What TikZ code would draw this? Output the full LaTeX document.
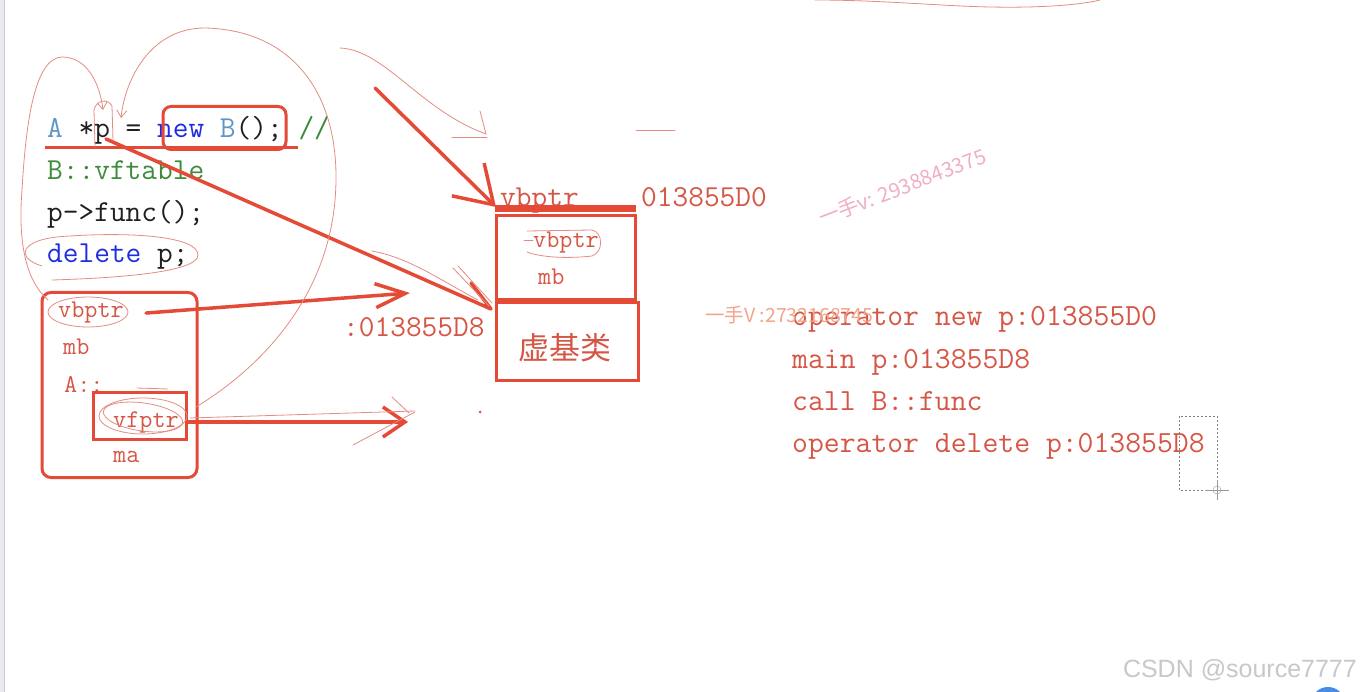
\documentclass[tikz,border=0pt]{standalone}
\usepackage{fontspec}
\setsansfont{Liberation Sans}
\newfontfamily\cjkfont{Noto Sans CJK SC}
\usetikzlibrary{arrows.meta}
\definecolor{inkred}{RGB}{228,74,54}
\definecolor{memred}{RGB}{214,86,70}
\definecolor{penpink}{RGB}{228,140,130}
\definecolor{kwblue}{RGB}{30,45,225}
\definecolor{typeblue}{RGB}{95,150,200}
\definecolor{cmtgreen}{RGB}{60,140,60}
\definecolor{wmorange}{RGB}{240,165,140}
\definecolor{wmpink}{RGB}{240,175,195}
\definecolor{csdngray}{RGB}{200,200,200}
\definecolor{edgegray}{RGB}{232,234,240}
\definecolor{badgeblue}{RGB}{70,140,230}
\newcommand\codefont{\ttfamily\fontsize{30.5}{40}\selectfont}
\newcommand\outfont{\ttfamily\fontsize{30.8}{40}\selectfont}
\newcommand\slotfont{\ttfamily\fontsize{25.5}{30}\selectfont}

\begin{document}
\begin{tikzpicture}[x=1pt,y=-1pt,
codetxt/.style={font=\codefont, text={black!88}, anchor=base west, inner sep=0pt},
memtxt/.style={font=\codefont, text=memred, anchor=base west, inner sep=0pt},
outtxt/.style={font=\outfont, text=memred, anchor=base west, inner sep=0pt},
slottxt/.style={font=\slotfont, text=memred, anchor=base west, inner sep=0pt},
wmtxt/.style={anchor=base west, inner sep=0pt},
membox/.style={draw=inkred, line width=3pt, inner sep=0pt},
inkarrow/.style={draw=inkred, line width=3.5pt, line cap=round, line join=round},
pen/.style={draw=penpink, line width=0.8pt, line cap=round},
]
\useasboundingbox (0,0) rectangle (1362,692);
\fill[white] (0,0) rectangle (1362,692);
\fill[edgegray] (0,0) rectangle (4,692);
\draw[gray!40] (4.5,0) -- (4.5,692);

%Code
\node[codetxt] (code1) at (47,138) {\textcolor{typeblue}{A} *p = \textcolor{kwblue}{new} \textcolor{typeblue}{B}(); \textcolor{cmtgreen}{//}};
\node[codetxt, text=cmtgreen] (code2) at (47,180) {B::vftable};
\node[codetxt] (code3) at (47,222) {p->func();};
\node[codetxt] (code4) at (47,263) {\textcolor{kwblue}{delete} p;};

%Object of A
\node[slottxt] (lvbptr) at (58,318) {vbptr};
\node[slottxt] (lmb) at (63,355) {mb};
\node[slottxt] (lscope) at (64,392) {A::};
\node[slottxt] (lvfptr) at (113,427) {vfptr};
\node[slottxt] (lma) at (113,462) {ma};

%Heap memory
\node[memtxt] (topvb) at (500,207) {vbptr};
\node[memtxt] (addrtop) at (641,207) {013855D0};
\node[slottxt] (mvbptr) at (533,248) {vbptr};
\node[slottxt] (mmb) at (538,285) {mb};
\node[font=\cjkfont\fontsize{31}{31}\selectfont, text=memred] (vbtext) at (565,348) {虚基类};
\node[memtxt] (addrbase) at (343,337) {:013855D8};

%Output
\node[outtxt] (out1) at (792,326) {operator new p:013855D0};
\node[outtxt] (out2) at (792,368) {main p:013855D8};
\node[outtxt] (out3) at (792,410) {call B::func};
\node[outtxt] (out4) at (792,452) {operator delete p:013855D8};

%Watermarks
\node[wmtxt, font=\cjkfont\fontsize{19.5}{20}\selectfont, text=wmorange] (wm1) at (705,323) {一手V :2732168745};
\node[wmtxt, font=\cjkfont\fontsize{20.5}{21}\selectfont, text=wmpink, rotate=21] (wm2) at (822,226) {一手v: 2938843375};
\node[font=\sffamily\fontsize{25}{25}\selectfont, text=csdngray, anchor=base east, inner sep=0pt] (csdn) at (1357,677) {CSDN @source7777};

%Boxes
\node[membox, rounded corners=8pt, minimum width=123pt, minimum height=43pt] (newbox) at (224.5,128) {};
\draw[inkred, line width=3pt] (45,148) -- (298,148);
\node[membox, rounded corners=9pt, minimum width=155pt, minimum height=185pt] (objA) at (119.5,385) {};
\node[membox, minimum width=93pt, minimum height=47pt] (vfbox) at (140,416) {};
\node[membox, minimum width=139pt, minimum height=84pt] (memtop) at (565.5,258) {};
\node[membox, minimum width=142pt, minimum height=77pt] (vbase) at (567,341.5) {};
\draw[inkred, line width=7pt] (495,208.5) -- (636,208.5);

%Lines
\coordinate (newtail) at (375,88);
\coordinate (newtip) at (496,207);
\coordinate (pstart) at (106,139);
\coordinate (ptip) at (491,309);
\coordinate (vbtip) at (410,293);
\coordinate (vftip) at (408,422);
\draw[inkarrow, -{Straight Barb[length=36pt,width=46pt]}] (newtail) -- (newtip);
\draw[inkarrow] (pstart) -- (ptip) -- ++(-20,-26);
\draw[inkarrow, -{Straight Barb[length=30pt,width=24pt]}] ([xshift=22pt]lvbptr.east) -- (vbtip);
\draw[inkarrow, -{Straight Barb[length=22pt,width=30pt]}] (vfbox.east |- vftip) -- (vftip);

%Pen strokes
\draw[pen, -{Straight Barb[length=7pt,width=10pt]}] (48,300) .. controls (25,280) and (18,240) .. (22,190) .. controls (26,120) and (35,58) .. (62,57) .. controls (88,57) and (100,85) .. (103,110);
\draw[pen, -{Straight Barb[length=7pt,width=10pt]}] (196,407) .. controls (265,365) and (335,290) .. (336,180) .. controls (337,90) and (290,30) .. (205,28) .. controls (150,28) and (125,80) .. (121,118);
\draw[pen] (95,147) -- (94,110) .. controls (96,100) and (108,98) .. (112,106) -- (113,140);
\draw[pen] (42,266) .. controls (15,258) and (18,238) .. (70,236) .. controls (130,232) and (198,236) .. (198,255) .. controls (198,272) and (120,278) .. (52,280);
\draw[pen] (88,312) ellipse [x radius=40, y radius=15];
\draw[pen] (143,416) ellipse [x radius=44, y radius=18];
\draw[pen, rotate around={-8:(143,417)}] (143,417) ellipse [x radius=40, y radius=14];
\draw[pen] (137,388) -- (168,389);
\draw[pen] (527,231) -- (592,230) .. controls (603,232) and (604,252) .. (592,256) .. controls (565,259) and (540,257) .. (527,252);
\draw[pen] (524,240) -- (533,240);
\draw[pen] (340,48) .. controls (385,50) and (420,110) .. (486,134);
\draw[pen] (480,111) -- (486,134);
\draw[pen] (452,137) -- (487,137);
\draw[pen] (636,130) -- (675,130);
\draw[pen] (815,0) .. controls (880,0) and (940,6) .. (990,7) .. controls (1040,8) and (1080,5) .. (1100,0);
\draw[pen] (453,268) -- (489,306);
\draw[pen] (458,266) -- (492,303);
\draw[pen] (372,251) .. controls (410,258) and (440,280) .. (478,300);
\draw[pen] (190,418) -- (415,411);
\draw[pen] (392,397) -- (409,413);
\draw[pen] (353,445) -- (415,412);
\fill[memred] (480,412) circle (1.5);

%Cursor
\draw[gray, line width=0.8pt, dash pattern=on 2pt off 2pt] (1179,416) rectangle (1217,490);
\draw[gray!80] (1217,490) circle (4);
\draw[gray!80] (1205,490) -- (1229,490);
\draw[gray!80] (1217,480) -- (1217,500);
\fill[badgeblue] (1328,704) circle (17);
\end{tikzpicture}
\end{document}
